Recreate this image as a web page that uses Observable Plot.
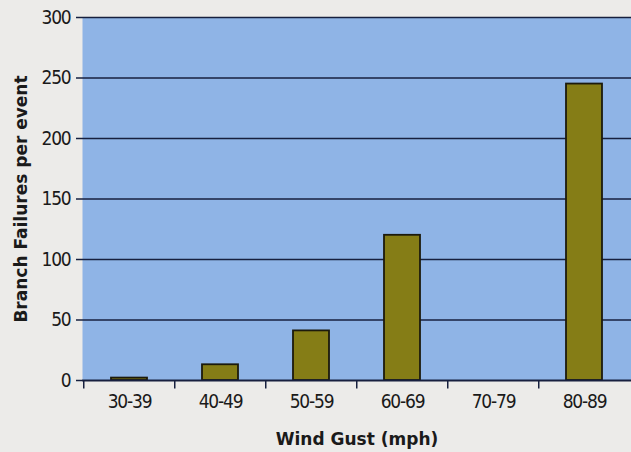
<!DOCTYPE html>
<html>
<head>
<meta charset="utf-8">
<script src="https://cdn.jsdelivr.net/npm/d3@7"></script>
<script src="https://cdn.jsdelivr.net/npm/@observablehq/plot@0.6"></script>
<style>
  html, body { margin: 0; padding: 0; background: #ecebe9; }
  #chart { width: 631px; height: 452px; overflow: hidden; }
  svg { display: block; }
</style>
</head>
<body>
<div id="chart"></div>
<script>
const categories = ["30-39", "40-49", "50-59", "60-69", "70-79", "80-89"];
const failures = [2, 13, 41, 120, 0, 245];
const yTicks = [0, 50, 100, 150, 200, 250, 300];
const gridTicks = [50, 100, 150, 200, 250, 300];

const data = categories.map((c, i) => ({gust: c, value: failures[i]}));

const W = 631, H = 452, mL = 82, mR = 0;
const step = (W - mL - mR) / categories.length;

const chart = Plot.plot({
  width: W,
  height: H,
  marginTop: 17,
  marginBottom: 72,
  marginLeft: mL,
  marginRight: mR,
  style: {background: "transparent", fontFamily: "'DejaVu Sans', sans-serif", color: "#1a1a1a"},
  x: {domain: categories, paddingInner: 0.6, paddingOuter: 0.3, label: null},
  y: {domain: [0, 300], label: null},
  marks: [
    Plot.frame({fill: "#8fb4e6", stroke: null}),
    Plot.ruleY(gridTicks, {stroke: "#17203f", strokeWidth: 1.5}),
    Plot.barY(data, {x: "gust", y: "value", fill: "#857d16", stroke: "#1c1a0c", strokeWidth: 1.8}),
    Plot.ruleY([0], {stroke: "#17203f", strokeWidth: 2}),
    Plot.ruleX(categories, {x: d => d, y1: 0, y2: -7, dx: -step / 2, stroke: "#17203f", strokeWidth: 1.5}),
    Plot.axisY({ticks: yTicks, tickSize: 6, tickPadding: 6, stroke: "#17203f", strokeWidth: 1.5,
      label: "Branch Failures per event", labelAnchor: "center", labelArrow: "none", labelOffset: 68}),
    Plot.axisX({tickSize: 0, tickPadding: 14,
      label: "Wind Gust (mph)", labelAnchor: "center", labelArrow: "none", labelOffset: 64})
  ]
});
chart.querySelectorAll("text").forEach(t => {
  const g = t.closest("g[aria-label]");
  const lab = g ? g.getAttribute("aria-label") : "";
  if (lab.includes("tick label")) {
    t.setAttribute("style", "font-family:'DejaVu Sans Condensed', 'DejaVu Sans', sans-serif; font-size:19px; letter-spacing:-1.2px; fill:#1a1a1a");
  } else if (lab.includes("axis label")) {
    t.setAttribute("style", "font-family:'DejaVu Sans', sans-serif; font-size:17px; font-weight:bold; fill:#1a1a1a");
  }
});
document.getElementById("chart").appendChild(chart);
</script>
</body>
</html>
